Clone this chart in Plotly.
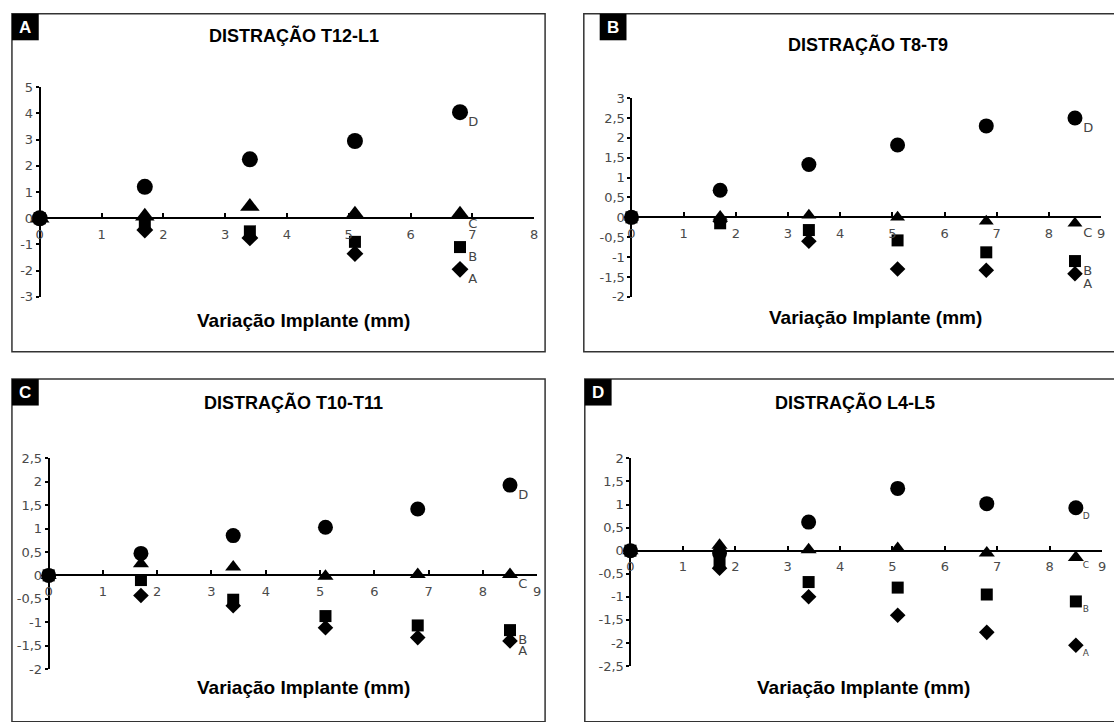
import plotly.graph_objects as go

# ---------------- data ----------------
panel_letters = ["A", "B", "C", "D"]
panel_titles = ["DISTRAÇÃO T12-L1", "DISTRAÇÃO T8-T9", "DISTRAÇÃO T10-T11", "DISTRAÇÃO L4-L5"]
x_title = "Variação Implante (mm)"
series_names = ["D", "C", "B", "A"]

x_A = [0, 1.7, 3.4, 5.1, 6.8]
D_A = [0, 1.2, 2.25, 2.95, 4.05]
C_A = [0, 0.08, 0.45, 0.15, 0.15]
B_A = [0, -0.2, -0.5, -0.9, -1.1]
A_A = [0, -0.45, -0.75, -1.35, -1.95]

x_B = [0, 1.7, 3.4, 5.1, 6.8, 8.5]
D_B = [0, 0.68, 1.33, 1.82, 2.3, 2.5]
C_B = [0, 0.02, 0.05, 0.0, -0.1, -0.15]
B_B = [0, -0.15, -0.32, -0.58, -0.88, -1.1]
A_B = [0, -0.1, -0.6, -1.3, -1.33, -1.42]

x_C = [0, 1.7, 3.4, 5.1, 6.8, 8.5]
D_C = [0, 0.47, 0.85, 1.03, 1.42, 1.93]
C_C = [0, 0.25, 0.18, -0.02, 0.02, 0.02]
B_C = [0, -0.1, -0.52, -0.87, -1.07, -1.17]
A_C = [0, -0.43, -0.65, -1.12, -1.33, -1.4]

x_D = [0, 1.7, 3.4, 5.1, 6.8, 8.5]
D_D = [0, -0.05, 0.62, 1.35, 1.02, 0.93]
C_D = [0, 0.12, 0.02, 0.05, -0.05, -0.15]
B_D = [0, -0.25, -0.68, -0.8, -0.95, -1.1]
A_D = [0, -0.38, -1.0, -1.4, -1.77, -2.05]

y_ranges = [(-3, 5), (-2, 3), (-2, 2.5), (-2.5, 2)]
y_dticks = [1, 0.5, 0.5, 0.5]
x_maxes = [8, 9, 9, 9]

panels_data = [
    (x_A, [D_A, C_A, B_A, A_A]),
    (x_B, [D_B, C_B, B_B, A_B]),
    (x_C, [D_C, C_C, B_C, A_C]),
    (x_D, [D_D, C_D, B_D, A_D]),
]

# ---------------- layout geometry (pixels) ----------------
W, H = 1114, 722
plot_px = [(36, 534, 82, 296), (632, 1105, 93, 296), (45, 537, 461, 676), (631, 1106, 461, 673)]
box_px = [(8, 545, 7, 352), (584, 1120, 7, 352), (8, 545, 380, 730), (585, 1120, 380, 730)]
tag_px = [(8, 7), (600, 7), (8, 380), (585, 380)]
title_px = [(292, 29), (870, 38), (292, 404), (857, 404)]
xtitle_px = [(302, 320), (878, 317), (302, 695), (866, 695)]
marker_sizes = [
    {"D": 16, "C": 17, "B": 12, "A": 13},
    {"D": 15, "C": 13, "B": 12, "A": 12},
    {"D": 15, "C": 14, "B": 12, "A": 12},
    {"D": 15, "C": 14, "B": 12, "A": 12},
]
label_sizes = [13, 13, 13, 9]
label_pad = [5, 5, 5, 5]


def px_x(x):
    return x / W


def px_y(y):
    return 1 - y / H


symbols = {"D": "circle", "C": "triangle-up", "B": "square", "A": "diamond"}
draw_order = ["D", "A", "C", "B"]

fig = go.Figure()
layout = dict(
    width=W, height=H, margin=dict(l=0, r=0, t=0, b=0),
    paper_bgcolor="white", plot_bgcolor="white", showlegend=False,
    separators=",.",
)
shapes = []
annotations = []

tick_font = dict(family="DejaVu Sans, sans-serif", size=13, color="#4a4a4a")
bold_font = "Liberation Sans, Arial, sans-serif"

for i in range(4):
    xs, ys_list = panels_data[i]
    ymin, ymax = y_ranges[i]
    xl, xr, yt, yb = plot_px[i]
    xd = [px_x(xl), px_x(xr)]
    yd = [px_y(yb), px_y(yt)]
    zero_pos = yd[0] + (0 - ymin) / (ymax - ymin) * (yd[1] - yd[0])
    xa = "xaxis" if i == 0 else f"xaxis{i+1}"
    ya = "yaxis" if i == 0 else f"yaxis{i+1}"
    xref = "x" if i == 0 else f"x{i+1}"
    yref = "y" if i == 0 else f"y{i+1}"

    xt = list(range(0, x_maxes[i] + 1))
    layout[xa] = dict(
        domain=xd, range=[0, x_maxes[i]], anchor="free", position=zero_pos,
        showline=True, linecolor="black", linewidth=2,
        ticks="inside", ticklen=4, tickwidth=1.5, tickcolor="black",
        tickvals=xt, ticktext=[str(v) for v in xt], tickfont=tick_font,
        showgrid=False, zeroline=False, ticklabelstandoff=4,
    )
    nt = int(round((ymax - ymin) / y_dticks[i]))
    yt_vals = [ymin + k * y_dticks[i] for k in range(nt + 1)]
    layout[ya] = dict(
        domain=yd, range=[ymin, ymax], anchor="free", position=xd[0],
        showline=True, linecolor="black", linewidth=2,
        ticks="outside", ticklen=3, tickwidth=1.5, tickcolor="black",
        tickvals=yt_vals,
        ticktext=[f"{v:g}".replace(".", ",") for v in yt_vals],
        tickfont=tick_font, showgrid=False, zeroline=False,
    )

    data_by_name = dict(zip(series_names, ys_list))
    for name in draw_order:
        fig.add_trace(go.Scatter(
            x=xs, y=data_by_name[name], mode="markers", name=name,
            xaxis=xref, yaxis=yref, cliponaxis=False,
            marker=dict(symbol=symbols[name], size=marker_sizes[i][name], color="black",
                        line=dict(width=0)),
        ))
    # series labels next to the last point (small invisible marker sets the offset)
    fig.add_trace(go.Scatter(
        x=[xs[-1]] * len(series_names),
        y=[data_by_name[n][-1] for n in series_names],
        text=["\u00a0" + n for n in series_names],
        mode="markers+text", textposition="bottom right",
        xaxis=xref, yaxis=yref, cliponaxis=False, hoverinfo="skip",
        marker=dict(size=label_pad[i], opacity=0),
        textfont=dict(family="DejaVu Sans, sans-serif", size=label_sizes[i], color="#444444"),
    ))

    # panel border
    bx0, bx1, by0, by1 = box_px[i]
    shapes.append(dict(type="rect", xref="paper", yref="paper",
                       x0=px_x(bx0), x1=px_x(bx1), y0=px_y(by1), y1=px_y(by0),
                       line=dict(color="#333333", width=1.5), fillcolor="rgba(0,0,0,0)"))
    # letter tag
    tx, ty = tag_px[i]
    shapes.append(dict(type="rect", xref="paper", yref="paper",
                       x0=px_x(tx), x1=px_x(tx + 27), y0=px_y(ty + 27), y1=px_y(ty),
                       line=dict(width=0), fillcolor="black"))
    annotations.append(dict(x=px_x(tx + 13.5), y=px_y(ty + 13.5), xref="paper", yref="paper",
                            text=f"<b>{panel_letters[i]}</b>", showarrow=False,
                            xanchor="center", yanchor="middle",
                            font=dict(family=bold_font, size=17, color="white")))
    # title
    cx, cy = title_px[i]
    annotations.append(dict(x=px_x(cx), y=px_y(cy), xref="paper", yref="paper",
                            text=f"<b>{panel_titles[i]}</b>", showarrow=False,
                            xanchor="center", yanchor="middle",
                            font=dict(family=bold_font, size=18, color="black")))
    # x axis title
    cx, cy = xtitle_px[i]
    annotations.append(dict(x=px_x(cx), y=px_y(cy), xref="paper", yref="paper",
                            text=f"<b>{x_title}</b>", showarrow=False,
                            xanchor="center", yanchor="middle",
                            font=dict(family=bold_font, size=19, color="black")))

layout["shapes"] = shapes
layout["annotations"] = annotations
fig.update_layout(**layout)
fig.write_html(
    "out.html",
    config={"displayModeBar": False},
    post_script="document.body.style.margin='0';document.body.style.overflow='hidden';",
)
